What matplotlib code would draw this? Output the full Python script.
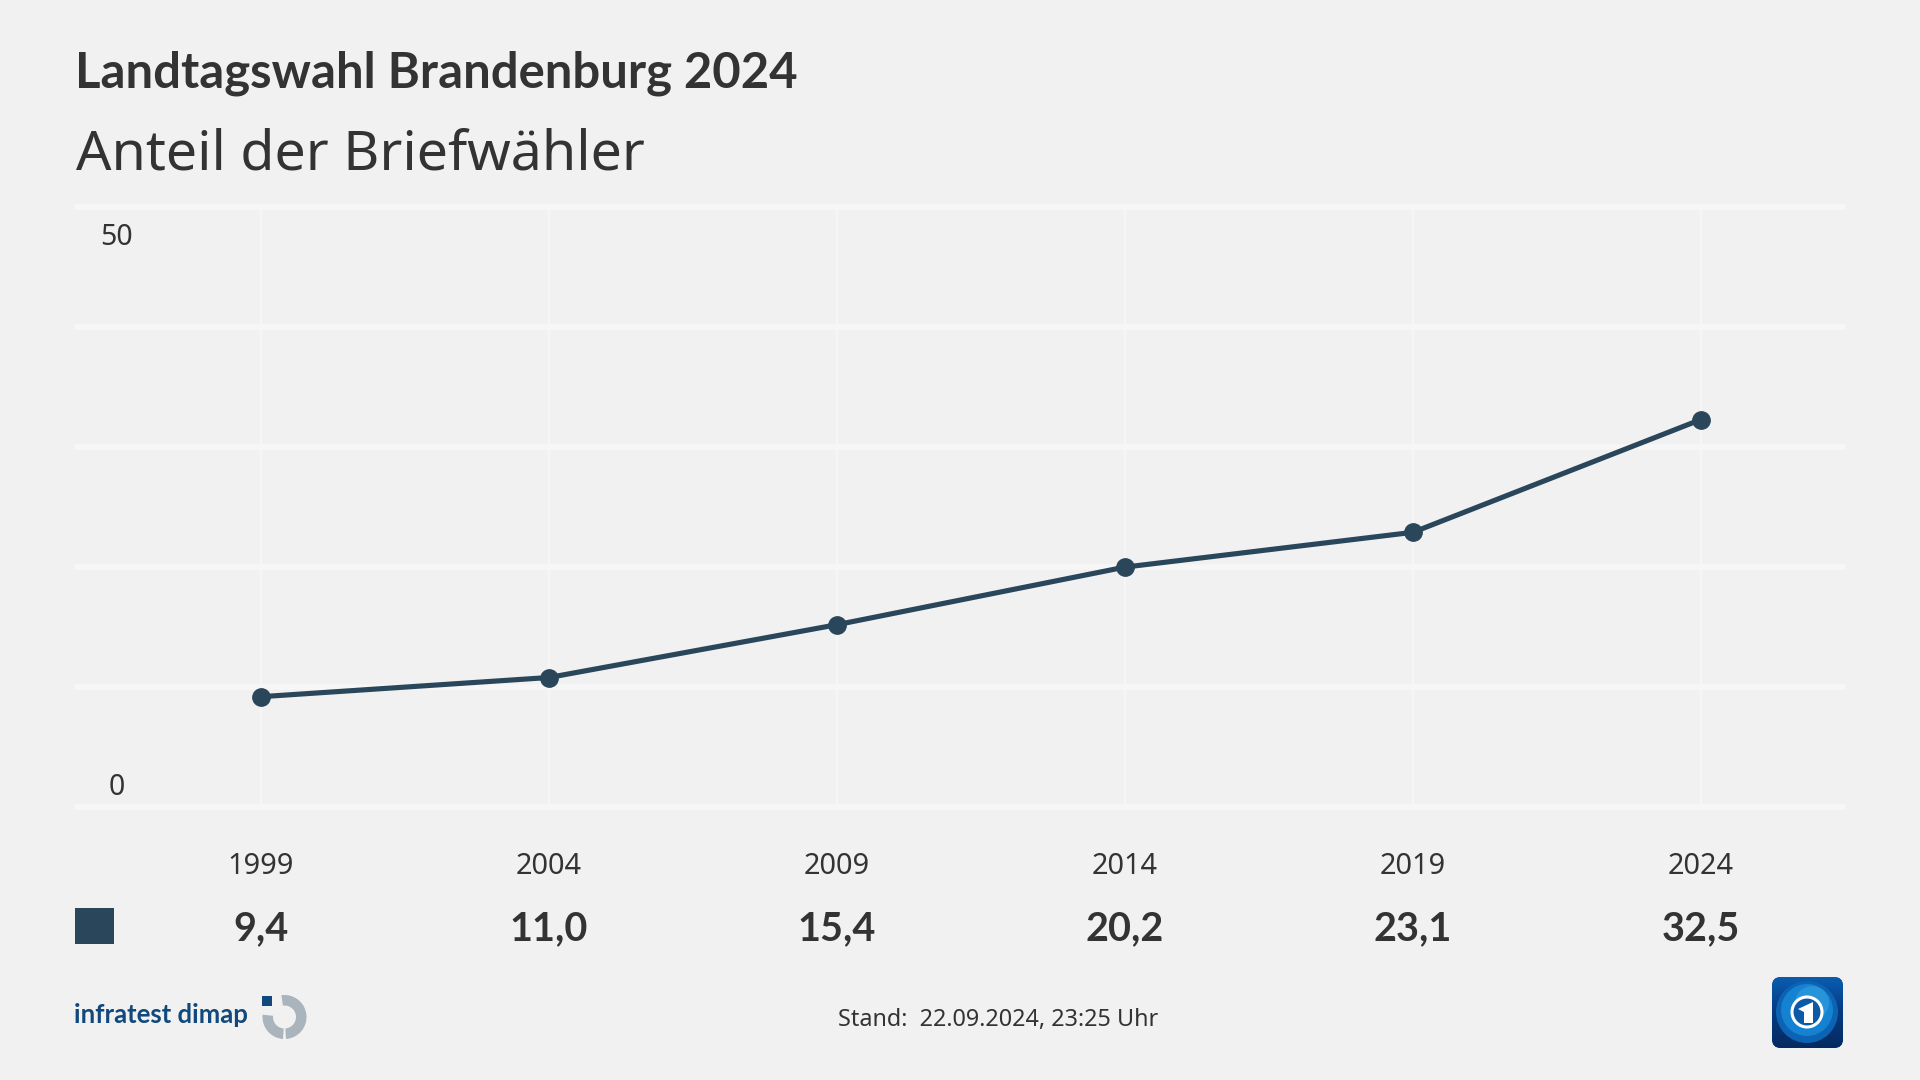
import matplotlib
matplotlib.use('Agg')
import matplotlib.pyplot as plt
import numpy as np
from matplotlib.colors import LinearSegmentedColormap
from matplotlib.patches import Circle, FancyBboxPatch, Polygon, Rectangle, Wedge
from matplotlib.transforms import ScaledTranslation

years = ['1999', '2004', '2009', '2014', '2019', '2024']
values = [9.4, 11.0, 15.4, 20.2, 23.1, 32.5]
value_labels = ['9,4', '11,0', '15,4', '20,2', '23,1', '32,5']
y_grid = [0, 10, 20, 30, 40, 50]

bg = '#f1f1f1'
grid = '#f7f7f7'
line_col = '#2a465a'
text_col = '#333333'
bold_font = ['Lato', 'DejaVu Sans']

plt.rcParams['font.family'] = ['Noto Sans', 'DejaVu Sans']

W, H = 1920, 1080
fig = plt.figure(figsize=(19.2, 10.8), dpi=100, facecolor=bg)

# plot area, pixel box 75..1845 / 207..807
ax = fig.add_axes([75 / W, 1 - 807 / H, 1770 / W, 600 / H], facecolor=bg)
x = np.arange(len(years))
ax.set_xlim(-186 / 288, 5.5)
ax.set_ylim(0, 50)
for s in ax.spines.values():
    s.set_visible(False)
ax.set_xticks([])
ax.set_yticks([])
for yv in y_grid:
    ax.axhline(yv, color=grid, lw=4, clip_on=False, zorder=1, solid_capstyle='butt')
for xv in x:
    ax.axvline(xv, color=grid, lw=1.3, zorder=1)
# the line sits a little under the grid in the original
shift = ScaledTranslation(0, -2.5 / 100, fig.dpi_scale_trans)
ax.plot(x, values, color=line_col, lw=3.7, marker='o', ms=12.5, zorder=3,
        solid_capstyle='round', solid_joinstyle='round', transform=ax.transData + shift)

# everything else is placed in figure pixels
ov = fig.add_axes([0, 0, 1, 1], facecolor='none')
ov.set_xlim(0, W)
ov.set_ylim(H, 0)
ov.axis('off')

ov.text(75, 87, 'Landtagswahl Brandenburg 2024', fontsize=35.3, fontweight='bold',
        family=bold_font, color=text_col, ha='left', va='baseline')
ov.text(75.5, 170, 'Anteil der Briefwähler', fontsize=40, color=text_col,
        ha='left', va='baseline')

ov.text(117, 237.5, '50', fontsize=20.5, color=text_col, ha='center', va='center')
ov.text(117, 787.5, '0', fontsize=20.5, color=text_col, ha='center', va='center')

for i, (yr, lab) in enumerate(zip(years, value_labels)):
    px = 261 + i * 288
    ov.text(px, 867, yr, fontsize=20.8, color=text_col, ha='center', va='center')
    ov.text(px, 929, lab, fontsize=28.5, fontweight='bold', family=bold_font, color=text_col,
            ha='center', va='center')

ov.add_patch(Rectangle((75, 908), 39, 36, color=line_col, lw=0))

ov.text(998, 1020, 'Stand:  22.09.2024, 23:25 Uhr', fontsize=16.8, color=text_col,
        ha='center', va='center')

# infratest dimap logo
ov.text(74, 1015, 'infratest dimap', fontsize=18.5, color='#12497c', ha='left',
        va='center', family=['Lato', 'DejaVu Sans'], fontweight='bold')
ov.add_patch(Rectangle((262, 996), 10, 10, color='#12497c', lw=0))
ring_c = (284.5, 1017)
# y axis is inverted here, so wedge angles run the other way round
ov.add_patch(Wedge(ring_c, 22, -98, 86, width=10.5, color='#a9b4bc', lw=0))
ov.add_patch(Wedge(ring_c, 22, 94, 186, width=10.5, color='#a9b4bc', lw=0))

# tagesschau logo
box = FancyBboxPatch((1775, 980), 65, 65, boxstyle='round,pad=3,rounding_size=9',
                     facecolor='#0a4f9e', edgecolor='none')
ov.add_patch(box)
gy = np.linspace(0, 1, 64)[:, None]
grad = ov.imshow(gy, extent=(1772, 1843, 1048, 977), aspect='auto', zorder=2,
                 cmap=LinearSegmentedColormap.from_list('tag', ['#0a5cb0', '#063a80', '#052a60']))
grad.set_clip_path(box)
ov.set_xlim(0, W)
ov.set_ylim(H, 0)
ov.add_patch(Circle((1807, 1012), 31, color='#0c63b4', lw=0, zorder=3))
ov.add_patch(Circle((1807, 1010), 26, color='#1482d0', lw=0, zorder=3))
ov.add_patch(Circle((1812, 1003), 17, color='#3aa6e4', lw=0, alpha=0.5, zorder=3))
ov.add_patch(Circle((1807, 1012), 15, facecolor='#0a5aa8', edgecolor='white', lw=2.2, zorder=4))
ov.add_patch(Polygon([(1798, 1009), (1813, 1002), (1813, 1023), (1804, 1023), (1804, 1012)],
                     closed=True, color='white', lw=0, zorder=5))

fig.savefig('out.png', dpi=100, facecolor=bg)
plt.close(fig)
